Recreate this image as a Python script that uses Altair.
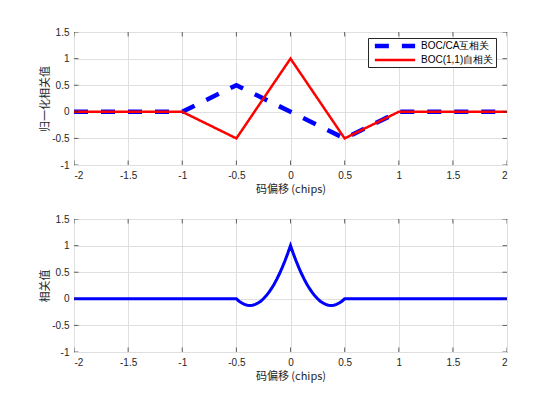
import altair as alt
import pandas as pd

# ---- data ----
s_cross = "BOC/CA互相关"
s_auto = "BOC(1,1)自相关"

x_top = [-2, -1, -0.5, 0, 0.5, 1, 2]
cross_corr = [0, 0, 0.5, 0, -0.5, 0, 0]
auto_corr = [0, 0, -0.5, 1, -0.5, 0, 0]

x_bot = [-2, -0.5, -0.475, -0.45, -0.425, -0.4, -0.375, -0.35, -0.325, -0.3, -0.275,
         -0.25, -0.225, -0.2, -0.175, -0.15, -0.125, -0.1, -0.075, -0.05, -0.025, 0,
         0.025, 0.05, 0.075, 0.1, 0.125, 0.15, 0.175, 0.2, 0.225, 0.25, 0.275, 0.3,
         0.325, 0.35, 0.375, 0.4, 0.425, 0.45, 0.475, 0.5, 2]
y_bot = [0, 0, -0.045, -0.08, -0.105, -0.12, -0.125, -0.12, -0.105, -0.08, -0.045,
         0, 0.055, 0.12, 0.195, 0.28, 0.375, 0.48, 0.595, 0.72, 0.855, 1,
         0.855, 0.72, 0.595, 0.48, 0.375, 0.28, 0.195, 0.12, 0.055, 0, -0.045, -0.08,
         -0.105, -0.12, -0.125, -0.12, -0.105, -0.08, -0.045, 0, 0]

x_ticks = [-2, -1.5, -1, -0.5, 0, 0.5, 1, 1.5, 2]
y_ticks = [-1, -0.5, 0, 0.5, 1, 1.5]

x_title = "码偏移 (chips)"
y_title_top = "归一化相关值"
y_title_bot = "相关值"

# ---- styling ----
W, H = 433, 133
INK = "#262626"
LATIN = "Liberation Sans"
CJK = "Noto Sans CJK SC"

xs = alt.Scale(domain=[-2, 2], nice=False, zero=False)
ys = alt.Scale(domain=[-1, 1.5], nice=False, zero=False)


def x_axis():
    return alt.Axis(values=x_ticks, labelExpr="'' + datum.value", title=x_title,
                    grid=True, ticks=False, domain=False, labelPadding=5,
                    titlePadding=3, labelOverlap=False)


def y_axis(t):
    return alt.Axis(values=y_ticks, labelExpr="'' + datum.value", title=t,
                    grid=True, ticks=False, domain=False, labelPadding=5,
                    titlePadding=1, labelOverlap=False)


def tick_layers(yt):
    bx = pd.DataFrame({"x": x_ticks * 2,
                       "y": [-1] * len(x_ticks) + [1.5] * len(x_ticks)})
    by = pd.DataFrame({"x": [-2] * len(y_ticks) + [2] * len(y_ticks),
                       "y": y_ticks * 2})
    t1 = alt.Chart(bx).mark_tick(orient="vertical", size=9, thickness=1,
                                 clip=True, color=INK).encode(
        x=alt.X("x:Q", scale=xs, axis=x_axis()),
        y=alt.Y("y:Q", scale=ys, axis=y_axis(yt)))
    t2 = alt.Chart(by).mark_tick(orient="horizontal", size=9, thickness=1,
                                 clip=True, color=INK).encode(
        x=alt.X("x:Q", scale=xs, axis=x_axis()),
        y=alt.Y("y:Q", scale=ys, axis=y_axis(yt)))
    return [t1, t2]


# ---- top panel ----
df_top = pd.DataFrame({
    "x": x_top + x_top,
    "y": cross_corr + auto_corr,
    "s": [s_cross] * len(x_top) + [s_auto] * len(x_top),
    "o": list(range(len(x_top) * 2)),
})

leg = alt.Legend(orient="none", legendX=294, legendY=6, title=None,
                 fillColor="white", strokeColor=INK, padding=2,
                 symbolType="M-6,0H6", symbolSize=45, symbolOffset=19,
                 labelFont=LATIN, labelFontSize=10, labelColor="#000000",
                 rowPadding=0, labelOffset=20)

dom = [s_cross, s_auto]
top_lines = alt.Chart(df_top).mark_line(clip=True).encode(
    x=alt.X("x:Q", scale=xs, axis=x_axis()),
    y=alt.Y("y:Q", scale=ys, axis=y_axis(y_title_top)),
    color=alt.Color("s:N", scale=alt.Scale(domain=dom, range=["#0000ff", "#ff0000"]),
                    legend=leg),
    strokeDash=alt.StrokeDash("s:N", scale=alt.Scale(domain=dom,
                                                     range=[[14, 13], [1, 0]]),
                              legend=leg),
    strokeWidth=alt.StrokeWidth("s:N", scale=alt.Scale(domain=dom, range=[4.5, 2.5]),
                                legend=leg),
    order="o:Q",
)

top = alt.layer(top_lines, *tick_layers(y_title_top)).properties(width=W, height=H)

# ---- bottom panel ----
df_bot = pd.DataFrame({"x": x_bot, "y": y_bot})
bot_line = alt.Chart(df_bot).mark_line(clip=True, color="#0000ff",
                                       strokeWidth=3).encode(
    x=alt.X("x:Q", scale=xs, axis=x_axis()),
    y=alt.Y("y:Q", scale=ys, axis=y_axis(y_title_bot)),
)
bottom = alt.layer(bot_line, *tick_layers(y_title_bot)).properties(width=W, height=H)

chart = alt.vconcat(top, bottom, spacing=54, bounds="flush").properties(
    padding={"left": 31, "top": 18, "right": 10, "bottom": 5},
    background="white",
).configure_view(stroke=INK, strokeWidth=1).configure_axis(
    labelFont=LATIN, labelFontSize=10, labelColor=INK,
    titleFont=CJK, titleFontSize=11, titleColor=INK, titleFontWeight="normal",
    gridColor="#dfdfdf", gridWidth=1,
)

chart.save("out.html", embed_options={"renderer": "svg", "actions": False})
